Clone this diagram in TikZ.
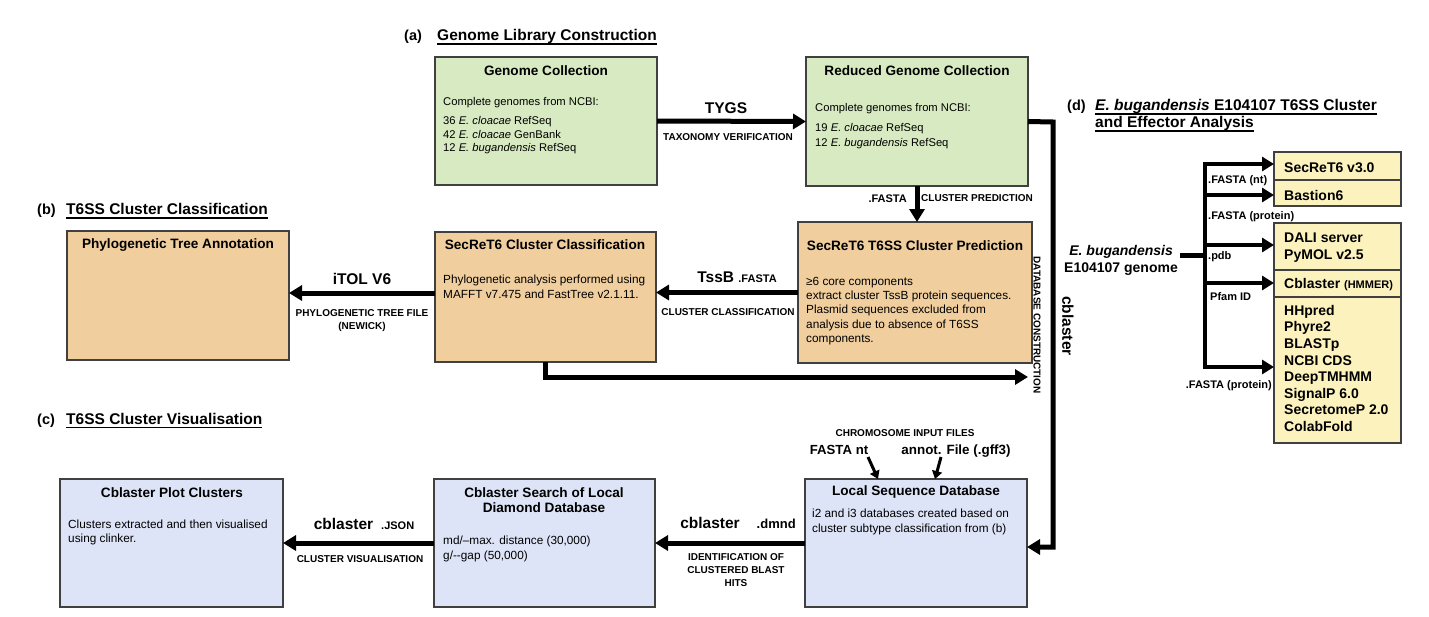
\documentclass[tikz,border=0pt]{standalone}
\usepackage{fontspec}
\setmainfont{Liberation Sans}
\usetikzlibrary{arrows.meta,calc}
\definecolor{gfill}{RGB}{216,234,193}
\definecolor{tfill}{RGB}{240,206,158}
\definecolor{bfill}{RGB}{222,228,247}
\definecolor{yfill}{RGB}{252,242,190}
\definecolor{bord}{RGB}{64,64,64}
\newcommand{\myul}[1]{\setbox0\hbox{#1}\rlap{\rule[-4.2pt]{\wd0}{1.4pt}}\box0}
\begin{document}
\begin{tikzpicture}[x=1pt,y=-1pt,
  box/.style={draw=bord,line width=1.3pt,anchor=north west,inner sep=0pt,outer sep=0pt},
  arr/.style={line width=5pt,line join=miter,-{Triangle[length=13pt,width=15pt]}},
  darr/.style={line width=4.5pt,-{Triangle[length=12pt,width=14pt]}},
  sarr/.style={line width=3pt,-{Triangle[length=8pt,width=10pt]}},
  hdr/.style={font=\bfseries\fontsize{15.5}{18}\selectfont,inner sep=0pt,anchor=base west},
  ttl/.style={font=\bfseries\fontsize{13.6}{16}\selectfont,inner sep=0pt,anchor=base},
  body/.style={font=\fontsize{11.8}{15}\selectfont,inner sep=0pt,anchor=north west,align=left},
  big/.style={font=\bfseries\fontsize{15.5}{18}\selectfont,inner sep=0pt,anchor=base},
  capl/.style={font=\bfseries\fontsize{10}{13}\selectfont,inner sep=0pt,anchor=base,align=center},
  midl/.style={font=\bfseries\fontsize{11}{13}\selectfont,inner sep=0pt,anchor=base west},
  item/.style={font=\bfseries\fontsize{14}{17}\selectfont,inner sep=0pt,anchor=base west,align=left}
]
\useasboundingbox (0,0) rectangle (1429,616);
\fill[white] (0,0) rectangle (1429,616);

% ---------- section headers ----------
\node[hdr,font=\bfseries\fontsize{14.5}{17}\selectfont] (la) at (404,40.5) {(a)};
\node[hdr] (ta) at (437,40.5) {\myul{Genome Library Construction}};
\node[hdr,font=\bfseries\fontsize{14.5}{17}\selectfont] (lb) at (37,214.5) {(b)};
\node[hdr] (tb) at (66,214.5) {\myul{T6SS Cluster Classification}};
\node[hdr,font=\bfseries\fontsize{14.5}{17}\selectfont] (lc) at (37,424) {(c)};
\node[hdr] (tc) at (66,424) {\myul{T6SS Cluster Visualisation}};
\node[hdr,font=\bfseries\fontsize{14.5}{17}\selectfont] (ld) at (1067,110.5) {(d)};
\node[hdr] (td1) at (1095,110.5) {\myul{\textit{E. bugandensis} E104107 T6SS Cluster}};
\node[hdr] (td2) at (1095,127.5) {\myul{and Effector Analysis}};

% ---------- boxes ----------
\node[box,fill=gfill,minimum width=222pt,minimum height=128pt] (gc) at (435,57) {};
\node[box,fill=gfill,minimum width=222pt,minimum height=129pt] (rgc) at (806,57) {};
\node[box,fill=tfill,minimum width=234pt,minimum height=141pt] (pred) at (798,222) {};
\node[box,fill=tfill,minimum width=221pt,minimum height=130pt] (cls) at (435,232) {};
\node[box,fill=tfill,minimum width=222pt,minimum height=129pt] (phy) at (67,231) {};
\node[box,fill=bfill,minimum width=223pt,minimum height=128pt] (plot) at (60,479) {};
\node[box,fill=bfill,minimum width=221pt,minimum height=128pt] (srch) at (434,479) {};
\node[box,fill=bfill,minimum width=222pt,minimum height=128pt] (ldb) at (805,479) {};
\node[box,fill=yfill,minimum width=127pt,minimum height=54pt] (d1) at (1274,152) {};
\node[box,fill=yfill,minimum width=127pt,minimum height=220pt] (d2) at (1274,223) {};
\draw[draw=bord,line width=1.3pt] ($(d1.north west)+(0,28)$) -- ($(d1.north east)+(0,28)$);
\draw[draw=bord,line width=1.3pt] ($(d2.north west)+(0,47)$) -- ($(d2.north east)+(0,47)$);
\draw[draw=bord,line width=1.3pt] ($(d2.north west)+(0,74)$) -- ($(d2.north east)+(0,74)$);

% ---------- box titles ----------
\node[ttl] (gct) at (546,75) {Genome Collection};
\node[ttl] (rgct) at (917,75) {Reduced Genome Collection};
\node[ttl] (predt) at (915,250) {SecReT6 T6SS Cluster Prediction};
\node[ttl] (clst) at (545,249) {SecReT6 Cluster Classification};
\node[ttl] (phyt) at (178,248) {Phylogenetic Tree Annotation};
\node[ttl] (plott) at (172,497) {Cblaster Plot Clusters};
\node[ttl,anchor=north,align=center,font=\bfseries\fontsize{13.6}{15}\selectfont] (srcht) at (544,487.5) {Cblaster Search of Local\\Diamond Database};
\node[ttl] (ldbt) at (916,495) {Local Sequence Database};

% ---------- box bodies ----------
\node[body,font=\fontsize{11.2}{13.5}\selectfont] (gcb1) at (443,97) {Complete genomes from NCBI:};
\node[body,font=\fontsize{11.2}{13.8}\selectfont] (gcb2) at (443,116) {36 \textit{E. cloacae} RefSeq\\42 \textit{E. cloacae} GenBank\\12 \textit{E. bugandensis} RefSeq};
\node[body,font=\fontsize{11.2}{13.5}\selectfont] (rgcb1) at (815,103) {Complete genomes from NCBI:};
\node[body,font=\fontsize{11.2}{15}\selectfont] (rgcb2) at (815,123) {19 \textit{E. cloacae} RefSeq\\12 \textit{E. bugandensis} RefSeq};
\node[body,font=\fontsize{11.8}{14.3}\selectfont] (predb) at (806,276.8) {≥6 core components\\extract cluster TssB protein sequences.\\Plasmid sequences excluded from\\analysis due to absence of T6SS\\components.};
\node[body] (clsb) at (443,274.8) {Phylogenetic analysis performed using\\MAFFT v7.475 and FastTree v2.1.11.};
\node[body,font=\fontsize{11.8}{14}\selectfont] (plotb) at (68,519.8) {Clusters extracted and then visualised\\using clinker.};
\node[body] (srchb) at (443,535.8) {md/–max. distance (30,000)\\g/-{}-gap (50,000)};
\node[body] (ldbb) at (812,508.8) {i2 and i3 databases created based on\\cluster subtype classification from (b)};

% ---------- connectors ----------
\draw[arr] (gc.east) -- (rgc.west);
\draw[arr] (rgc.south) -- (rgc.south |- pred.north);
\draw[arr] (pred.west) -- (pred.west -| cls.east);
\coordinate (a4) at ($(cls.west)+(0,-4)$);
\draw[arr] (a4) -- (a4 -| phy.east);
\coordinate (dbend) at (1028,377);
\draw[arr] (cls.south) |- (dbend);
\coordinate (cbx) at (1053,122);
\coordinate (ldbin) at ($(ldb.east)+(0,4)$);
\draw[arr] (rgc.east) -- (cbx) -- (cbx |- ldbin) -- (ldbin);
\draw[arr] (ldb.west) -- (srch.east);
\draw[arr] (srch.west) -- (plot.east);

% ---------- connector labels ----------
\node[big] (tygs) at (726,113) {TYGS};
\node[capl] (taxv) at (728,140.6) {TAXONOMY VERIFICATION};
\node[midl,anchor=base east] (fa1) at (907,202) {.FASTA};
\node[capl,anchor=base west] (clp) at (921,201.6) {CLUSTER PREDICTION};
\node[big] (tssb) at (737,282.5) {TssB {\fontsize{11}{13}\selectfont .FASTA}};
\node[capl] (clc) at (728,315.6) {CLUSTER CLASSIFICATION};
\node[big] (itol) at (362,284.6) {iTOL V6};
\node[capl,anchor=north] (ptf) at (362,309.5) {PHYLOGENETIC TREE FILE\\(NEWICK)};
\node[big] (cbl1) at (738,528.6) {cblaster\hspace{17pt}{\fontsize{13}{15}\selectfont .dmnd}};
\node[capl,anchor=north] (idc) at (736,553) {IDENTIFICATION OF\\CLUSTERED BLAST\\HITS};
\node[big] (cbl2) at (364,529) {cblaster\hspace{8pt}{\fontsize{11}{13}\selectfont .JSON}};
\node[capl] (clv) at (360,562.6) {CLUSTER VISUALISATION};
\node[big,anchor=center,rotate=-90] (cblv) at (1068,326) {cblaster};
\node[capl,anchor=center,rotate=-90] (dbc) at (1037,325) {DATABASE CONSTRUCTION};

% chromosome input files
\node[capl] (chr) at (905,436.6) {CHROMOSOME INPUT FILES};
\node[big,font=\bfseries\fontsize{13.2}{15}\selectfont] (fnt) at (839,454.7) {FASTA nt};
\node[big,font=\bfseries\fontsize{13.4}{15}\selectfont] (anf) at (956,454.7) {annot. File (.gff3)};
\coordinate (s1) at (868,457);
\coordinate (s2) at (941,457);
\draw[sarr] (s1) -- ($(ldb.north west)+(73,0)$);
\draw[sarr] (s2) -- ($(ldb.north west)+(130,0)$);

% ---------- (d) ----------
\node[item,font=\bfseries\itshape\fontsize{14}{17}\selectfont,anchor=base east] (gen1) at (1173,255) {E. bugandensis};
\node[item,anchor=base east] (gen2) at (1178,272) {E104107 genome};
\coordinate (gout) at (1180,255);
\coordinate (br) at (1205,255);
\coordinate (btop) at (1205,164);
\coordinate (b2) at (1205,195);
\coordinate (b3) at (1205,245);
\coordinate (b4) at (1205,283);
\coordinate (bbot) at (1205,367);
\draw[line width=5pt] (gout) -- (br);
\draw[line width=4.5pt,line cap=rect] (btop) -- (bbot);
\draw[darr] (btop) -- (btop -| d1.west);
\draw[darr] (b2) -- (b2 -| d1.west);
\draw[darr] (b3) -- (b3 -| d2.west);
\draw[darr] (b4) -- (b4 -| d2.west);
\draw[darr] (bbot) -- (bbot -| d2.west);

\node[midl] (dl1) at (1208,183) {.FASTA (nt)};
\node[midl] (dl2) at (1208,219) {.FASTA (protein)};
\node[midl] (dl3) at (1208,259) {.pdb};
\node[midl] (dl4) at (1210,300) {Pfam ID};
\node[midl,anchor=base east] (dl5) at (1272,388) {.FASTA (protein)};

\node[item] (i1) at (1284,172) {SecReT6 v3.0};
\node[item] (i2) at (1284,200) {Bastion6};
\node[item,anchor=north west] (i3) at (1284,233) {DALI server\\PyMOL v2.5};
\node[item] (i4) at (1284,288) {Cblaster {\fontsize{11}{13}\selectfont (HMMER)}};
\node[item,anchor=north west,font=\bfseries\fontsize{14}{16.6}\selectfont] (i5) at (1284,305) {HHpred\\Phyre2\\BLASTp\\NCBI CDS\\DeepTMHMM\\SignalP 6.0\\SecretomeP 2.0\\ColabFold};
\end{tikzpicture}
\end{document}
